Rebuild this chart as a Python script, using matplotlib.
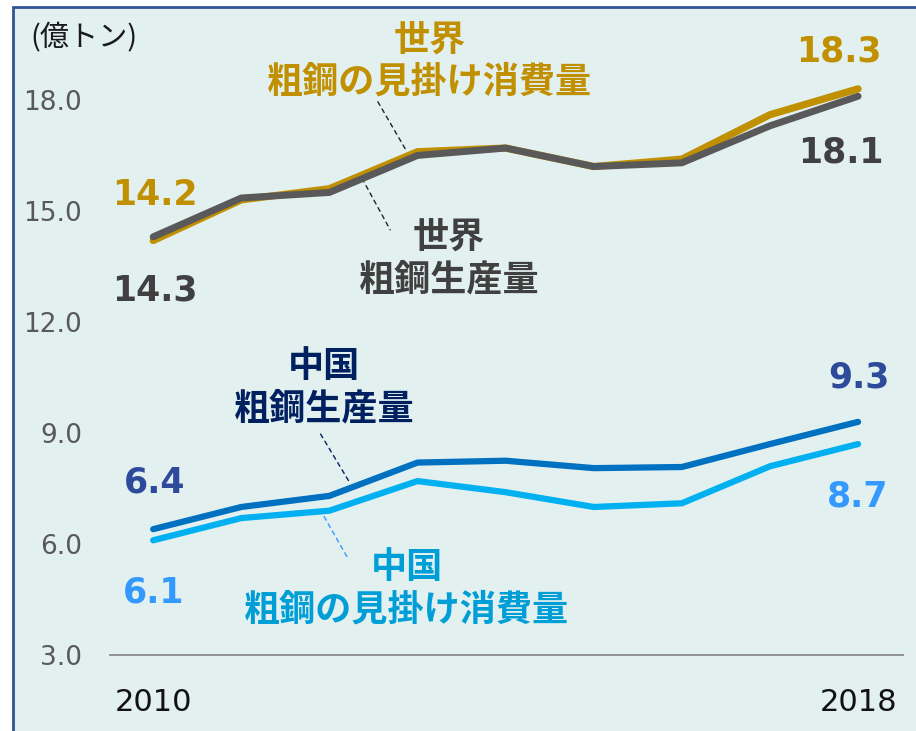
import matplotlib
matplotlib.use("Agg")
import matplotlib.pyplot as plt
from matplotlib.patches import Rectangle

# ---- data ----
years = [2010, 2011, 2012, 2013, 2014, 2015, 2016, 2017, 2018]
world_consumption = [14.2, 15.3, 15.6, 16.6, 16.7, 16.2, 16.4, 17.6, 18.3]
world_production = [14.3, 15.35, 15.5, 16.5, 16.7, 16.2, 16.3, 17.3, 18.1]
china_production = [6.4, 7.0, 7.3, 8.2, 8.25, 8.05, 8.08, 8.7, 9.3]
china_consumption = [6.1, 6.7, 6.9, 7.7, 7.4, 7.0, 7.1, 8.1, 8.7]
yticks = [3.0, 6.0, 9.0, 12.0, 15.0, 18.0]
xtick_years = [2010, 2018]
unit_label = "(億トン)"

CJK = ["Noto Sans CJK JP", "DejaVu Sans"]

W, H = 916, 731
fig = plt.figure(figsize=(W / 100, H / 100), dpi=100, facecolor="white")

# frame / background
fig.patches.append(Rectangle((13 / W, -0.1), 1.2, 724 / H + 0.1, transform=fig.transFigure,
                             facecolor="#e2f0f0", edgecolor="#2f5597", lw=2.0, zorder=-5))

ax = fig.add_axes([110 / W, (H - 655) / H, (903 - 110) / W, (655 - 20) / H])
ax.set_zorder(5)
ax.set_facecolor("none")
ax.set_xlim(2009.51, 2018.51)
ax.set_ylim(3.0, 20.16)

for s in ["left", "right", "top"]:
    ax.spines[s].set_visible(False)
ax.spines["bottom"].set_color("#8a8a8a")
ax.spines["bottom"].set_linewidth(1.3)

ax.set_yticks(yticks)
ax.set_yticklabels([f"{v:.1f}" for v in yticks], fontsize=19, color="#595959")
ax.set_xticks(xtick_years)
ax.set_xticklabels([str(y) for y in xtick_years], fontsize=22, color="#111111")
ax.tick_params(axis="y", length=0, pad=20)
ax.tick_params(axis="x", length=0, pad=24)

kw = dict(solid_capstyle="round", solid_joinstyle="round")
ax.plot(years, world_consumption, color="#c09000", lw=5.2, zorder=3, **kw)
ax.plot(years, world_production, color="#595959", lw=5.0, zorder=4, **kw)
ax.plot(years, china_production, color="#0070c0", lw=4.5, zorder=3, **kw)
ax.plot(years, china_consumption, color="#00b0f0", lw=4.5, zorder=3, **kw)

# leader lines
def leader(p0, p1, color):
    ax.annotate("", xy=p1, xytext=p0,
                arrowprops=dict(arrowstyle="-", color=color, lw=1.0, linestyle=(0, (3, 3)),
                                shrinkA=0, shrinkB=0))

leader((2012.55, 17.95), (2012.88, 16.60), "#222222")
leader((2012.37, 15.88), (2012.69, 14.49), "#222222")
leader((2011.90, 8.97), (2012.24, 7.62), "#002060")
leader((2011.94, 6.74), (2012.22, 5.57), "#3399ff")

# series labels (two lines, one text)
def label(x, y, lines, color):
    ax.text(x, y, "\n".join(lines), fontsize=26, fontweight="bold", color=color, family=CJK,
            ha="center", va="center", multialignment="center", linespacing=1.2)

label(2013.14, 19.05, ["世界", "粗鋼の見掛け消費量"], "#c09000")
label(2013.36, 13.71, ["世界", "粗鋼生産量"], "#404040")
label(2011.94, 10.22, ["中国", "粗鋼生産量"], "#002060")
label(2012.88, 4.78, ["中国", "粗鋼の見掛け消費量"], "#009ed6")

# value labels
def val(x, y, t, color):
    ax.text(x, y, t, fontsize=25, fontweight="bold", color=color, ha="center", va="center",
            family="DejaVu Sans")

val(2010.02, 15.43, f"{world_consumption[0]:.1f}", "#c09000")
val(2010.02, 12.86, f"{world_production[0]:.1f}", "#404040")
val(2017.78, 19.32, f"{world_consumption[-1]:.1f}", "#c09000")
val(2017.81, 16.57, f"{world_production[-1]:.1f}", "#404040")
val(2010.02, 7.65, f"{china_production[0]:.1f}", "#2e4b9b")
val(2010.01, 4.70, f"{china_consumption[0]:.1f}", "#3399ff")
val(2018.01, 10.51, f"{china_production[-1]:.1f}", "#2e4b9b")
val(2018.00, 7.27, f"{china_consumption[-1]:.1f}", "#3399ff")

fig.text(30 / W, 1 - 38 / H, unit_label, fontsize=21, color="#1a1a1a", family=CJK,
         ha="left", va="center")

fig.savefig("out.png", dpi=100, facecolor="white")
